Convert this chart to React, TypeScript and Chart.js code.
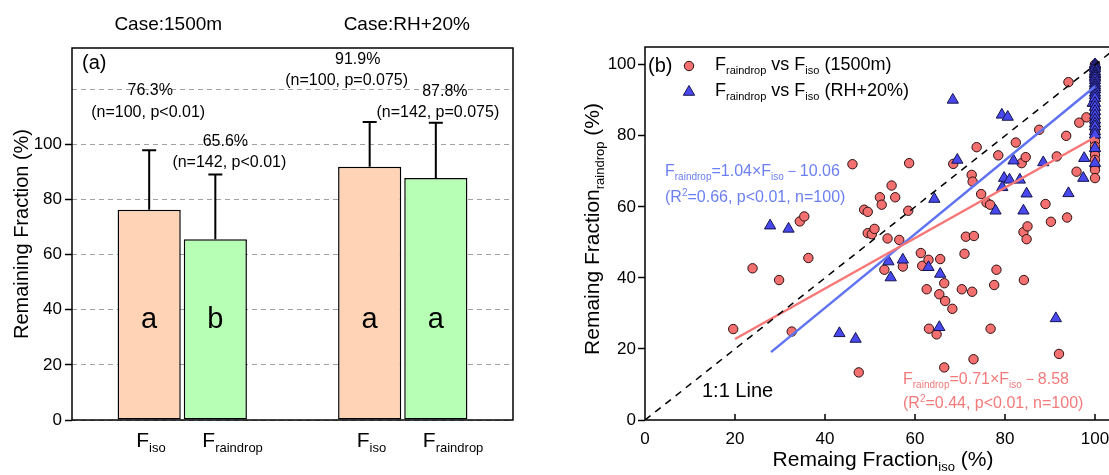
import React, { useEffect, useRef } from 'react';
import { Chart, registerables } from 'chart.js';

Chart.register(...registerables);

const FONT = '"Liberation Sans", Arial, Helvetica, sans-serif';

// ---------- Panel (a) data ----------
const caseLabels = ['Case:1500m', 'Case:RH+20%'];
const fisoMeans = [76.3, 91.9];
const fisoSD = [21.6, 16.2];
const fraindropMeans = [65.6, 87.8];
const fraindropSD = [23.5, 20.1];
const fisoPctLabels = ['76.3%', '91.9%'];
const fisoNotes = ['(n=100, p<0.01)', '(n=100, p=0.075)'];
const fraindropPctLabels = ['65.6%', '87.8%'];
const fraindropNotes = ['(n=142, p<0.01)', '(n=142, p=0.075)'];
const fisoLetters = ['a', 'a'];
const fraindropLetters = ['b', 'a'];
const yTicksA = [0, 20, 40, 60, 80, 100];

// ---------- Panel (b) data ----------
const red1500X = [
  19.6, 23.9, 29.8, 32.6, 34.4, 35.4, 36.3, 46.1, 47.5, 48.7, 49.5, 49.5, 50.4, 51.0, 52.2, 52.6, 53.2, 53.9,
  54.8, 55.6, 56.5, 57.3, 58.5, 58.7, 61.3, 61.6, 62.6, 63.0, 63.1, 64.8, 65.4, 65.6, 66.5, 66.5, 66.7, 68.3,
  68.5, 70.4, 71.0, 71.3, 72.6, 72.7, 72.8, 73.0, 73.1, 73.7, 74.7, 75.9, 76.7, 76.8, 77.6, 78.1, 78.5, 82.4,
  83.7, 84.1, 84.2, 84.6, 84.8, 85.0, 87.6, 89.0, 90.2, 91.5, 92.0, 93.6, 93.8, 94.1, 95.9, 96.5, 98.1,
  100, 100, 100, 100, 100, 100, 100, 100, 100, 100, 100, 100, 100, 100, 100, 100, 100, 100, 100, 100, 100, 100,
  100, 100, 100, 100, 100, 100, 100,
];
const red1500Y = [
  25.6, 42.7, 39.4, 24.9, 55.9, 57.3, 45.6, 72.0, 13.4, 59.2, 58.6, 52.6, 52.3, 53.8, 62.7, 60.6, 42.3, 51.1,
  66.0, 62.7, 50.7, 43.2, 58.9, 72.3, 47.0, 43.4, 36.8, 45.1, 25.7, 24.1, 35.4, 45.3, 38.5, 14.8, 33.5, 31.3,
  72.1, 36.8, 46.8, 51.6, 69.0, 36.1, 67.1, 17.1, 51.8, 76.8, 63.6, 61.2, 60.6, 25.7, 38.0, 42.3, 74.5, 78.1,
  72.3, 52.9, 39.4, 74.0, 50.9, 54.5, 81.7, 60.8, 55.8, 74.2, 18.6, 80.0, 57.0, 95.1, 69.9, 83.7, 85.2,
  100, 100, 99.2, 98.6, 97.8, 96.5, 95.4, 94.1, 93.2, 92.3, 91.1, 90.2, 88.7, 87.5, 86.3, 85.6, 84.2, 83.1,
  82.0, 80.9, 79.6, 78.4, 77.0, 75.8, 74.6, 73.2, 71.4, 70.4, 68.1,
];
const blueRhX = [
  27.8, 31.9, 43.2, 46.8, 54.1, 54.6, 57.3, 63.0, 64.3, 65.4, 65.6, 68.4, 69.4, 77.9, 79.3, 79.4, 79.8, 80.6,
  81.0, 81.9, 83.3, 84.1, 84.8, 88.5, 91.3, 94.1, 97.4, 97.6, 99.5,
  100, 100, 100, 100, 100, 100, 100, 100, 100, 100, 100, 100, 100, 100, 100, 100, 100, 100, 100, 100, 100, 100,
  100, 100, 100, 100, 100, 100, 100, 100, 100,
];
const blueRhY = [
  54.7, 53.8, 24.4, 22.8, 44.6, 40.1, 45.1, 43.0, 62.2, 26.1, 41.1, 90.1, 73.2, 58.9, 85.9, 65.5, 68.1, 85.3,
  67.6, 73.0, 67.6, 58.9, 63.7, 72.5, 28.6, 63.8, 68.1, 73.7, 89.2,
  100, 100, 100, 100, 100, 99.4, 98.9, 98.1, 97.6, 97.2, 96.7, 96.3, 95.6, 94.8, 94.2, 93.6, 93.0, 92.1, 91.4,
  90.6, 89.2, 88.1, 86.9, 85.7, 84.5, 83.4, 82.6, 81.2, 80.3, 76.5, 72.3,
];
const oneToOneX = [0, 105];
const oneToOneY = [0, 105];
const redFitX = [20, 100];
const redFitY = [22.8, 79.6];
const blueFitX = [28, 100];
const blueFitY = [19.1, 93.9];
const xTicksB = [0, 20, 40, 60, 80, 100];

// ---------- helpers ----------
type Part = { t: string; s?: 'sub' | 'sup' };

function drawRich(ctx: CanvasRenderingContext2D, parts: Part[], x: number, y: number, size: number, color: string, align: 'left' | 'center' = 'left', ratio = 0.62) {
  const small = Math.round(size * ratio);
  let total = 0;
  for (const p of parts) {
    ctx.font = `${p.s ? small : size}px ${FONT}`;
    total += ctx.measureText(p.t).width;
  }
  let cx = align === 'center' ? x - total / 2 : x;
  ctx.fillStyle = color;
  ctx.textAlign = 'left';
  ctx.textBaseline = 'middle';
  for (const p of parts) {
    ctx.font = `${p.s ? small : size}px ${FONT}`;
    const dy = p.s === 'sub' ? size * 0.33 : p.s === 'sup' ? -size * 0.3 : 0;
    ctx.fillText(p.t, cx, y + dy);
    cx += ctx.measureText(p.t).width;
  }
}

function drawRotated(ctx: CanvasRenderingContext2D, parts: Part[], x: number, y: number, size: number, color: string) {
  ctx.save();
  ctx.translate(x, y);
  ctx.rotate(-Math.PI / 2);
  drawRich(ctx, parts, 0, 0, size, color, 'center');
  ctx.restore();
}

function zip(xs: number[], ys: number[]) {
  return xs.map((x, i) => ({ x, y: ys[i] }));
}

// ---------- panel (a) plugin ----------
const panelAPlugin = {
  id: 'panelA',
  afterDatasetsDraw(chart: any) {
    const ctx = chart.ctx as CanvasRenderingContext2D;
    const ys = chart.scales.y;
    const sets = [
      { means: fisoMeans, sds: fisoSD },
      { means: fraindropMeans, sds: fraindropSD },
    ];
    sets.forEach((s, di) => {
      const meta = chart.getDatasetMeta(di);
      meta.data.forEach((el: any, i: number) => {
        const top = ys.getPixelForValue(s.means[i] + s.sds[i]);
        ctx.save();
        ctx.strokeStyle = '#000';
        ctx.lineWidth = 2;
        ctx.beginPath();
        ctx.moveTo(el.x, el.y);
        ctx.lineTo(el.x, top);
        ctx.moveTo(el.x - 7, top);
        ctx.lineTo(el.x + 7, top);
        ctx.stroke();
        ctx.restore();
      });
    });
  },
  afterDraw(chart: any) {
    const ctx = chart.ctx as CanvasRenderingContext2D;
    const a = chart.chartArea;
    ctx.save();
    ctx.strokeStyle = '#000';
    ctx.lineWidth = 1.5;
    ctx.strokeRect(a.left, a.top, a.right - a.left, a.bottom - a.top);

    const m0 = chart.getDatasetMeta(0).data;
    const m1 = chart.getDatasetMeta(1).data;
    // case titles
    const caseDx = [-14, 4];
    caseLabels.forEach((lab, i) => {
      const gc = (m0[i].x + m1[i].x) / 2;
      drawRich(ctx, [{ t: lab }], gc + caseDx[i], 25, 19, '#000', 'center');
    });
    drawRich(ctx, [{ t: '(a)' }], 82, 63, 20, '#000');

    // annotations
    const pctLayoutF = [{ dx: 1, y: 91 }, { dx: -12, y: 60 }];
    const noteLayoutF = [{ dx: -1, y: 113 }, { dx: -23, y: 81 }];
    const pctLayoutR = [{ dx: 10, y: 142 }, { dx: 9, y: 92 }];
    const noteLayoutR = [{ dx: 14, y: 163 }, { dx: 2, y: 113 }];
    for (let i = 0; i < 2; i++) {
      drawRich(ctx, [{ t: fisoPctLabels[i] }], m0[i].x + pctLayoutF[i].dx, pctLayoutF[i].y, 16, '#000', 'center');
      drawRich(ctx, [{ t: fisoNotes[i] }], m0[i].x + noteLayoutF[i].dx, noteLayoutF[i].y, 16, '#000', 'center');
      drawRich(ctx, [{ t: fraindropPctLabels[i] }], m1[i].x + pctLayoutR[i].dx, pctLayoutR[i].y, 16, '#000', 'center');
      drawRich(ctx, [{ t: fraindropNotes[i] }], m1[i].x + noteLayoutR[i].dx, noteLayoutR[i].y, 16, '#000', 'center');
      // letters
      drawRich(ctx, [{ t: fisoLetters[i] }], m0[i].x, 320, 29, '#000', 'center');
      drawRich(ctx, [{ t: fraindropLetters[i] }], m1[i].x, 320, 29, '#000', 'center');
      // category labels
      drawRich(ctx, [{ t: 'F' }, { t: 'iso', s: 'sub' }], m0[i].x - 13, 441, 21, '#000');
      drawRich(ctx, [{ t: 'F' }, { t: 'raindrop', s: 'sub' }], m1[i].x - 13, 441, 21, '#000');
    }
    drawRotated(ctx, [{ t: 'Remaining Fraction (%)' }], 22, 234, 20, '#000');
    ctx.restore();
  },
};

// ---------- panel (b) plugin ----------
const RED = '#F47070';
const BLUE = '#4848EC';

const panelBPlugin = {
  id: 'panelB',
  afterDraw(chart: any) {
    const ctx = chart.ctx as CanvasRenderingContext2D;
    const a = chart.chartArea;
    const xs = chart.scales.x;
    ctx.save();
    ctx.strokeStyle = '#000';
    ctx.lineWidth = 1.5;
    ctx.strokeRect(a.left, a.top, a.right - a.left, a.bottom - a.top);
    // inward x ticks
    ctx.beginPath();
    xTicksB.forEach((v) => {
      if (v === 0) return;
      const px = xs.getPixelForValue(v);
      ctx.moveTo(px, a.bottom);
      ctx.lineTo(px, a.bottom - 6);
    });
    ctx.stroke();

    const ox = chart.canvas.offsetLeft || 0;
    const L = (px: number) => px - ox;
    drawRich(ctx, [{ t: '(b)' }], L(648), 66, 20, '#000');

    // legend
    ctx.fillStyle = RED;
    ctx.strokeStyle = '#2a1010';
    ctx.lineWidth = 1;
    ctx.beginPath();
    ctx.arc(L(689), 66, 4.7, 0, Math.PI * 2);
    ctx.fill();
    ctx.stroke();
    ctx.fillStyle = BLUE;
    ctx.strokeStyle = '#141450';
    ctx.beginPath();
    const tr = 6.5;
    const tx = L(689);
    const ty = 92;
    ctx.moveTo(tx, ty - tr);
    ctx.lineTo(tx + tr * 0.866, ty + tr * 0.5);
    ctx.lineTo(tx - tr * 0.866, ty + tr * 0.5);
    ctx.closePath();
    ctx.fill();
    ctx.stroke();
    drawRich(ctx, [{ t: 'F' }, { t: 'raindrop', s: 'sub' }, { t: ' vs F' }, { t: 'iso', s: 'sub' }, { t: ' (1500m)' }], L(715), 65, 18, '#000');
    drawRich(ctx, [{ t: 'F' }, { t: 'raindrop', s: 'sub' }, { t: ' vs F' }, { t: 'iso', s: 'sub' }, { t: ' (RH+20%)' }], L(715), 91, 18, '#000');

    // equations
    const blueTxt = '#6B7FF2';
    const redTxt = '#F27A7A';
    drawRich(ctx, [{ t: 'F' }, { t: 'raindrop', s: 'sub' }, { t: '=1.04×F' }, { t: 'iso', s: 'sub' }, { t: '－10.06' }], L(665), 172, 16, blueTxt);
    drawRich(ctx, [{ t: '(R' }, { t: '2', s: 'sup' }, { t: '=0.66, p<0.01, n=100)' }], L(665), 198, 16, blueTxt);
    drawRich(ctx, [{ t: 'F' }, { t: 'raindrop', s: 'sub' }, { t: '=0.71×F' }, { t: 'iso', s: 'sub' }, { t: '－8.58' }], L(903), 380, 16, redTxt);
    drawRich(ctx, [{ t: '(R' }, { t: '2', s: 'sup' }, { t: '=0.44, p<0.01, n=100)' }], L(903), 404, 16, redTxt);
    drawRich(ctx, [{ t: '1:1 Line' }], L(702), 391, 20, '#000');

    // axis titles
    drawRich(ctx, [{ t: 'Remaing Fraction' }, { t: 'iso', s: 'sub' }, { t: ' (%)' }], L(883), 460, 21, '#000', 'center');
    drawRotated(ctx, [{ t: 'Remaing Fraction' }, { t: 'raindrop', s: 'sub' }, { t: ' (%)' }], L(593), 229, 21, '#000');
    ctx.restore();
  },
};

export default function App() {
  const refA = useRef<HTMLCanvasElement>(null);
  const refB = useRef<HTMLCanvasElement>(null);

  useEffect(() => {
    const tickFont = { family: FONT, size: 17 };
    const chartA = new Chart(refA.current as HTMLCanvasElement, {
      type: 'bar',
      data: {
        labels: caseLabels,
        datasets: [
          {
            label: 'Fiso',
            data: fisoMeans,
            backgroundColor: '#FFD3B5',
            borderColor: '#000',
            borderWidth: 1.5,
            borderSkipped: false,
            categoryPercentage: 0.6,
            barPercentage: 0.955,
          },
          {
            label: 'Fraindrop',
            data: fraindropMeans,
            backgroundColor: '#B6FFB4',
            borderColor: '#000',
            borderWidth: 1.5,
            borderSkipped: false,
            categoryPercentage: 0.6,
            barPercentage: 0.955,
          },
        ],
      },
      options: {
        responsive: false,
        animation: false,
        layout: { padding: { top: 48, right: 27, left: 0, bottom: 0 } },
        plugins: { legend: { display: false }, tooltip: { enabled: false } },
        scales: {
          x: {
            ticks: { display: false },
            grid: { display: false },
            border: { display: false },
            afterFit: (s: any) => {
              s.height = 55;
            },
          },
          y: {
            min: 0,
            max: 135,
            ticks: {
              stepSize: 20,
              includeBounds: false,
              color: '#000',
              font: tickFont,
              padding: 3,
              callback: (v: any) => (yTicksA.includes(Number(v)) ? String(v) : ''),
            },
            grid: {
              color: '#a0a0a0',
              lineWidth: 1,
              tickLength: 7,
              tickWidth: 1.5,
              tickColor: (c: any) => (c.tick && c.tick.value > 100 ? 'rgba(0,0,0,0)' : '#000'),
            },
            border: { display: false, dash: [5, 4] },
            afterFit: (s: any) => {
              s.width = 72;
            },
          },
        },
      } as any,
      plugins: [panelAPlugin as any],
    });

    const chartB = new Chart(refB.current as HTMLCanvasElement, {
      type: 'scatter',
      data: {
        datasets: [
          {
            label: '1:1',
            data: zip(oneToOneX, oneToOneY),
            showLine: true,
            borderColor: '#000',
            borderDash: [7, 6],
            borderWidth: 1.5,
            pointRadius: 0,
            order: 0,
          },
          {
            label: 'red fit',
            data: zip(redFitX, redFitY),
            showLine: true,
            borderColor: '#F77777',
            borderWidth: 2.5,
            pointRadius: 0,
            order: 0,
          },
          {
            label: 'blue fit',
            data: zip(blueFitX, blueFitY),
            showLine: true,
            borderColor: '#5F73F2',
            borderWidth: 2.5,
            pointRadius: 0,
            order: 0,
          },
          {
            label: 'Fraindrop vs Fiso (RH+20%)',
            data: zip(blueRhX, blueRhY),
            pointStyle: 'triangle',
            pointRadius: 6.5,
            backgroundColor: BLUE,
            borderColor: '#141450',
            borderWidth: 1,
            order: 1,
          },
          {
            label: 'Fraindrop vs Fiso (1500m)',
            data: zip(red1500X, red1500Y),
            pointStyle: 'circle',
            pointRadius: 4.7,
            backgroundColor: RED,
            borderColor: '#2a1010',
            borderWidth: 1,
            order: 2,
          },
        ],
      },
      options: {
        responsive: false,
        animation: false,
        layout: { padding: { top: 47, right: 22.5, left: 0, bottom: 0 } },
        plugins: { legend: { display: false }, tooltip: { enabled: false } },
        scales: {
          x: {
            type: 'linear',
            min: 0,
            max: 105,
            ticks: {
              stepSize: 20,
              includeBounds: false,
              color: '#000',
              font: tickFont,
              padding: 1,
              callback: (v: any) => (xTicksB.includes(Number(v)) ? String(v) : ''),
            },
            grid: { display: false },
            border: { display: false },
            afterFit: (s: any) => {
              s.height = 55;
            },
          },
          y: {
            type: 'linear',
            min: 0,
            max: 105,
            ticks: {
              stepSize: 20,
              includeBounds: false,
              color: '#000',
              font: tickFont,
              padding: 2,
            },
            grid: {
              drawOnChartArea: false,
              drawTicks: true,
              tickLength: 7,
              tickColor: '#000',
              tickWidth: 1.5,
            },
            border: { display: false },
            afterFit: (s: any) => {
              s.width = 85;
            },
          },
        },
      } as any,
      plugins: [panelBPlugin as any],
    });

    return () => {
      chartA.destroy();
      chartB.destroy();
    };
  }, []);

  return (
    <div style={{ position: 'absolute', left: 0, top: 0, width: 1109, height: 475, overflow: 'hidden', background: '#fff' }}>
      <canvas ref={refA} width={540} height={475} style={{ position: 'absolute', left: 0, top: 0, width: 540, height: 475 }} />
      <canvas ref={refB} width={580} height={475} style={{ position: 'absolute', left: 560, top: 0, width: 580, height: 475 }} />
    </div>
  );
}
